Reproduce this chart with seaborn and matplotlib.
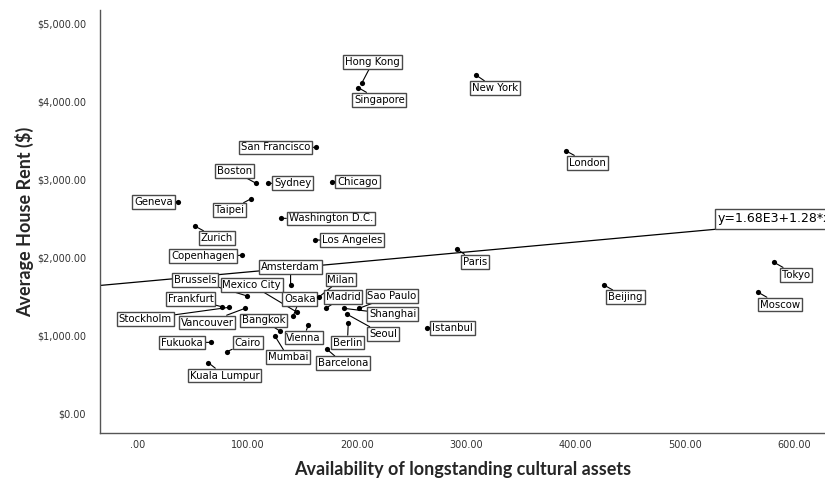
import matplotlib
matplotlib.use("Agg")
import matplotlib.pyplot as plt
import seaborn as sns
import numpy as np
import pandas as pd
from matplotlib.ticker import FuncFormatter

# ---------------- data ----------------
cities = ["Hong Kong", "Singapore", "New York", "San Francisco", "London", "Boston",
          "Sydney", "Chicago", "Geneva", "Taipei", "Washington D.C.", "Zurich",
          "Los Angeles", "Copenhagen", "Paris", "Amsterdam", "Brussels", "Mexico City",
          "Osaka", "Frankfurt", "Stockholm", "Vancouver", "Bangkok", "Milan", "Madrid",
          "Shanghai", "Sao Paulo", "Seoul", "Berlin", "Vienna", "Istanbul", "Tokyo",
          "Beijing", "Moscow", "Fukuoka", "Cairo", "Mumbai", "Barcelona", "Kuala Lumpur"]
culture = [204.5, 201.4, 309, 163, 391, 108,
           118.5, 177, 37, 103, 131, 52,
           162, 95, 292, 139.5, 99.9, 145.6,
           142, 76.5, 83.2, 97.8, 129.8, 165.7, 171.6,
           188.3, 202, 190.8, 192.2, 155.7, 263.9, 581.4,
           426, 567, 66.5, 81.1, 125.2, 172.5, 64.3]
rent = [4227, 4171, 4333, 3406, 3363, 2945,
        2945, 2968, 2709, 2744, 2496, 2397,
        2218, 2022, 2099, 1641, 1500, 1291,
        1247, 1363, 1355, 1342, 1051, 1491, 1342,
        1342, 1342, 1269, 1150, 1128, 1094, 1932,
        1641, 1547, 906, 786, 987, 821, 645]
fit_intercept = 1680.0
fit_slope = 1.28
fit_label = "y=1.68E3+1.28*x"

# label offsets in pixels (dx right, dy down) relative to each point
label_offsets = {
    "Hong Kong": (11, -21), "Singapore": (21, 12), "New York": (19, 13),
    "San Francisco": (-41, 0), "London": (22, 12), "Boston": (-22, -12),
    "Sydney": (25, 0), "Chicago": (26, 0), "Geneva": (-25, 0), "Taipei": (-21, 11),
    "Washington D.C.": (49.5, 0), "Zurich": (22, 12), "Los Angeles": (37, 0),
    "Copenhagen": (-39, 1), "Paris": (17.5, 12.4), "Amsterdam": (0, -18),
    "Brussels": (-52, -16), "Mexico City": (-45.6, -27.3), "Osaka": (6.4, -16.5),
    "Frankfurt": (-31, -8), "Stockholm": (-83.7, 11.5), "Vancouver": (-37.8, 14.2),
    "Bangkok": (-16.7, -10.7), "Milan": (21.7, -17.2), "Madrid": (17.6, -11.3),
    "Shanghai": (48.8, 5.9), "Sao Paulo": (33, -12.5), "Seoul": (36.3, 20),
    "Berlin": (-0.8, 19.2), "Vienna": (-4.6, 12.5), "Istanbul": (26, 0),
    "Tokyo": (22, 12.4), "Beijing": (21.5, 12.2), "Moscow": (21.5, 12.2),
    "Fukuoka": (-28.7, 0.2), "Cairo": (21, -9.2), "Mumbai": (13, 21),
    "Barcelona": (16.6, 14.3), "Kuala Lumpur": (16.4, 12.8),
}

df = pd.DataFrame({"city": cities, "culture": culture, "rent": rent})

# ---------------- plot ----------------
sns.set_style("white")
plt.rcParams["font.family"] = ["DejaVu Sans"]

fig = plt.figure(figsize=(8.25, 4.84), dpi=100)
ax = fig.add_axes([100 / 825, 1 - 433 / 484, 725 / 825, 423 / 484])

xlim = (-34.7, 628)
ylim = (-256, 5167)
ax.set_xlim(*xlim)
ax.set_ylim(*ylim)

# regression line
xs = np.array(xlim)
sns.lineplot(x=xs, y=fit_intercept + fit_slope * xs, ax=ax, color="black", lw=0.9)

sns.scatterplot(data=df, x="culture", y="rent", ax=ax, color="black", s=14,
                edgecolor="black", linewidth=0, zorder=5)

box = dict(boxstyle="square,pad=0.18", fc="white", ec="#4a4a4a", lw=1.0)
for c, x, y in zip(cities, culture, rent):
    dx, dy = label_offsets[c]
    ax.annotate(c, xy=(x, y), xytext=(dx, -dy), textcoords="offset pixels",
                ha="center", va="center", fontsize=7.3, color="black", bbox=box,
                arrowprops=dict(arrowstyle="-", color="black", lw=0.8,
                                shrinkA=0, shrinkB=0),
                zorder=4)

ax.text(530, fit_intercept + fit_slope * 530 + 130, fit_label, ha="left", va="center",
        fontsize=9, color="black",
        bbox=dict(boxstyle="square,pad=0.25", fc="white", ec="#4a4a4a", lw=1.0),
        zorder=6)

ax.set_xticks([0, 100, 200, 300, 400, 500, 600])
ax.set_yticks([0, 1000, 2000, 3000, 4000, 5000])
ax.xaxis.set_major_formatter(FuncFormatter(lambda v, p: ".00" if v == 0 else f"{v:.2f}"))
ax.yaxis.set_major_formatter(FuncFormatter(lambda v, p: f"${v:,.2f}"))
ax.tick_params(axis="both", length=0, labelsize=7, labelcolor="#333333")
ax.tick_params(axis="x", pad=5)
ax.tick_params(axis="y", pad=10)

for s in ["top", "right"]:
    ax.spines[s].set_visible(False)
for s in ["left", "bottom"]:
    ax.spines[s].set_color("#555555")
    ax.spines[s].set_linewidth(1.0)

ax.set_xlabel("Availability of longstanding cultural assets", fontsize=13,
              fontweight="bold", family="Lato", labelpad=8)
ax.set_ylabel("Average House Rent ($)", fontsize=13, fontweight="bold",
              family="Lato", labelpad=2)

fig.savefig("out.png", dpi=100)
